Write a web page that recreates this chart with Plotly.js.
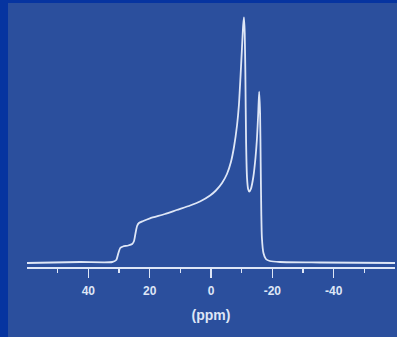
<!DOCTYPE html>
<html>
<head>
<meta charset="utf-8">
<script src="https://cdn.plot.ly/plotly-3.0.1.min.js"></script>
<style>
  html, body { margin: 0; padding: 0; width: 397px; height: 337px; overflow: hidden; background: #0634a0; }
  #chart { position: absolute; left: 8px; top: 3px; width: 389px; height: 334px; }
</style>
</head>
<body>
<div id="chart"></div>
<script>
// Chemical shift (ppm) and intensity (arbitrary units)
const ppm = [60, 42.7, 32.2, 30.9, 30.2, 29.6, 28.7, 27.0, 25.7, 25.1, 24.6, 24.1, 23.5, 22.1, 19.9, 15.0, 11.2, 6.8, 3.6, 0.3,
  -1.6, -3.6, -5.2, -6.5, -7.5, -8.5, -9.1, -9.6, -10.1, -10.5, -10.75, -11.0, -11.2, -11.45, -11.75, -12.1, -12.5,
  -13.0, -13.8, -14.5, -15.0, -15.4, -15.7, -16.0, -16.2, -16.4, -16.6, -17.1, -17.9, -19.2, -22.5, -35.5, -60];
const intensity = [0, 1, 1, 3, 10, 15, 16.5, 17.5, 19, 22, 30, 37, 40, 42, 44.7, 49, 53, 57.5, 61.5, 67.5,
  72.5, 80, 89, 101, 116, 138, 158, 185, 215, 238, 245.7, 230, 190, 120, 85, 74, 71.3,
  74, 86, 105, 125, 150, 171.3, 150, 100, 50, 25, 10, 4, 2, 1, 0.5, 0];
const majorTicks = [40, 20, 0, -20, -40];
const majorLabels = ["40", "20", "0", "-20", "-40"];
const minorTicks = [50, 30, 10, -10, -30, -50];
const xTitle = "(ppm)";

const fg = "rgb(222,230,246)";
const trace = {
  x: ppm, y: intensity, type: "scatter", mode: "lines",
  line: { color: fg, width: 1.8, shape: "spline", smoothing: 0.6 },
  hoverinfo: "skip"
};
const layout = {
  width: 389, height: 334,
  margin: { l: 19, r: 2, t: 4, b: 70 },
  paper_bgcolor: "rgb(43,79,157)",
  plot_bgcolor: "rgba(0,0,0,0)",
  showlegend: false,
  xaxis: {
    range: [60, -60], showgrid: false, zeroline: false,
    showline: true, linecolor: fg, linewidth: 1.5,
    ticks: "outside", ticklen: 9, tickwidth: 1.5, tickcolor: fg,
    tickmode: "array", tickvals: majorTicks, ticktext: majorLabels,
    tickfont: { family: "Liberation Sans, Arial, sans-serif", size: 12, color: fg, weight: "bold" },
    ticklabelstandoff: 3,
    minor: { tickmode: "array", tickvals: minorTicks, ticks: "outside", ticklen: 4, tickwidth: 1.5, tickcolor: fg, showgrid: false },
    title: { text: xTitle, standoff: 13, font: { family: "Liberation Sans, Arial, sans-serif", size: 14, color: fg, weight: "bold" } }
  },
  yaxis: { visible: false, range: [-4, 256], fixedrange: true }
};
Plotly.newPlot("chart", [trace], layout, { staticPlot: true, displayModeBar: false });
</script>
</body>
</html>
